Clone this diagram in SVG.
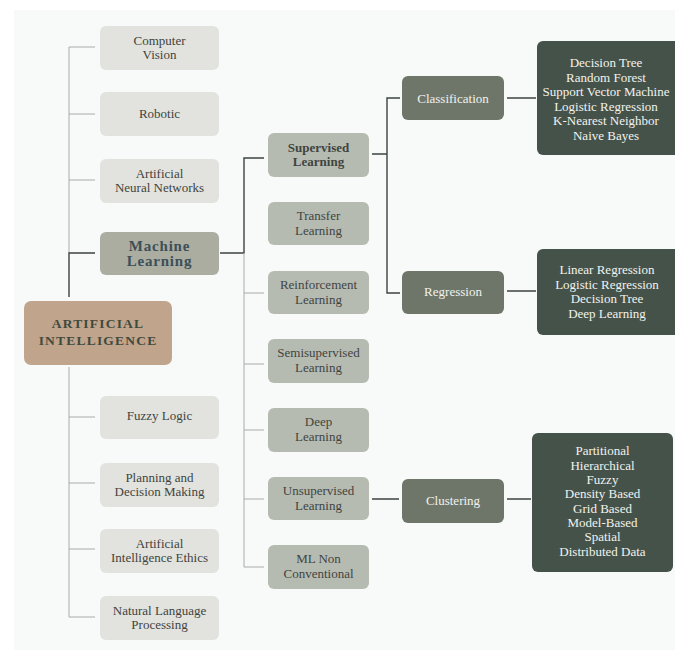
<svg xmlns="http://www.w3.org/2000/svg" width="675" height="650" viewBox="0 0 675 650">
<style>
text{text-anchor:middle}
.l1{fill:#e2e3de}
.l1t{fill:#3f4440;font-size:13px}
.l2{fill:#b6bbb2}
.l2t{fill:#3f4440;font-size:13px}
.l3{fill:#6e7669}
.l3t{fill:#f2f2ee;font-size:13px}
.l4{fill:#45524a}
.l4t{fill:#f2f2ee;font-size:13px}
.lt{stroke:#a9aca8;stroke-width:1;fill:none}
.dk{stroke:#3c443e;stroke-width:1.4;fill:none}
</style>
<rect x="0" y="0" width="675" height="650" fill="#ffffff"/>
<rect x="14" y="10" width="661" height="640" fill="#f8f9f9"/>
<g id="connectors">
<path class="lt" d="M69 47V253M69 47H95M69 114H95M69 180H95"/>
<path class="dk" d="M95 253H69V297"/>
<path class="lt" d="M69 367V617M69 417H95M69 483H95M69 549H95M69 617H95"/>
<path class="dk" d="M220 253H244V158H264"/>
<path class="lt" d="M244 253V567M244 293H264M244 364H264M244 430H264M244 499H264M244 567H264"/>
<path class="dk" d="M372 154H387M400 98H387V293H400"/>
<path class="dk" d="M507 98H536M507 291H536M507 499H531M372 499H399"/>
</g>
<g font-family="Liberation Serif, Times New Roman, DejaVu Serif, serif">
<g id="computer-vision"><rect class="l1" x="100" y="26" width="119" height="44" rx="6"/><text class="l1t" x="159.5" y="45">Computer</text><text class="l1t" x="159.5" y="59">Vision</text></g>
<g id="robotic"><rect class="l1" x="100" y="92" width="119" height="44" rx="6"/><text class="l1t" x="159.5" y="118">Robotic</text></g>
<g id="ann"><rect class="l1" x="100" y="159" width="119" height="44" rx="6"/><text class="l1t" x="159.5" y="178">Artificial</text><text class="l1t" x="159.5" y="192">Neural Networks</text></g>
<g id="machine-learning"><rect fill="#abada1" x="100" y="232" width="119" height="43" rx="6"/><text x="159.5" y="251" font-size="15" font-weight="bold" fill="#3d4f58" letter-spacing="0.8">Machine</text><text x="159.5" y="266" font-size="15" font-weight="bold" fill="#3d4f58" letter-spacing="0.8">Learning</text></g>
<g id="ai"><rect fill="#c1a48c" x="24" y="301" width="148" height="64" rx="7"/><text x="98" y="328" font-size="13.5" font-weight="bold" fill="#3e4a3e" letter-spacing="1.2">ARTIFICIAL</text><text x="98" y="345" font-size="13.5" font-weight="bold" fill="#3e4a3e" letter-spacing="1.2">INTELLIGENCE</text></g>
<g id="fuzzy-logic"><rect class="l1" x="100" y="396" width="119" height="43" rx="6"/><text class="l1t" x="159.5" y="420">Fuzzy Logic</text></g>
<g id="planning"><rect class="l1" x="100" y="463" width="119" height="44" rx="6"/><text class="l1t" x="159.5" y="482">Planning and</text><text class="l1t" x="159.5" y="496">Decision Making</text></g>
<g id="ethics"><rect class="l1" x="100" y="529" width="119" height="44" rx="6"/><text class="l1t" x="159.5" y="548">Artificial</text><text class="l1t" x="159.5" y="562">Intelligence Ethics</text></g>
<g id="nlp"><rect class="l1" x="100" y="596" width="119" height="44" rx="6"/><text class="l1t" x="159.5" y="615">Natural Language</text><text class="l1t" x="159.5" y="629">Processing</text></g>
<g id="supervised"><rect class="l2" x="268" y="133" width="101" height="44" rx="6"/><text x="318.5" y="152" font-size="13" font-weight="bold" fill="#3f4440">Supervised</text><text x="318.5" y="166" font-size="13" font-weight="bold" fill="#3f4440">Learning</text></g>
<g id="transfer"><rect class="l2" x="268" y="202" width="101" height="43" rx="6"/><text class="l2t" x="318.5" y="220">Transfer</text><text class="l2t" x="318.5" y="235">Learning</text></g>
<g id="reinforcement"><rect class="l2" x="268" y="271" width="101" height="43" rx="6"/><text class="l2t" x="318.5" y="289">Reinforcement</text><text class="l2t" x="318.5" y="304">Learning</text></g>
<g id="semisupervised"><rect class="l2" x="268" y="339" width="101" height="44" rx="6"/><text class="l2t" x="318.5" y="357">Semisupervised</text><text class="l2t" x="318.5" y="372">Learning</text></g>
<g id="deep"><rect class="l2" x="268" y="408" width="101" height="44" rx="6"/><text class="l2t" x="318.5" y="426">Deep</text><text class="l2t" x="318.5" y="441">Learning</text></g>
<g id="unsupervised"><rect class="l2" x="268" y="477" width="101" height="43" rx="6"/><text class="l2t" x="318.5" y="495">Unsupervised</text><text class="l2t" x="318.5" y="510">Learning</text></g>
<g id="ml-non"><rect class="l2" x="268" y="545" width="101" height="44" rx="6"/><text class="l2t" x="318.5" y="563">ML Non</text><text class="l2t" x="318.5" y="578">Conventional</text></g>
<g id="classification"><rect class="l3" x="402" y="76" width="102" height="44" rx="6"/><text class="l3t" x="453" y="103">Classification</text></g>
<g id="regression"><rect class="l3" x="402" y="271" width="102" height="43" rx="6"/><text class="l3t" x="453" y="296">Regression</text></g>
<g id="clustering"><rect class="l3" x="402" y="479" width="102" height="44" rx="6"/><text class="l3t" x="453" y="505">Clustering</text></g>
<g id="class-list"><rect class="l4" x="537" y="41" width="146" height="114" rx="6"/><text class="l4t" x="606" y="67">Decision Tree</text><text class="l4t" x="606" y="82">Random Forest</text><text class="l4t" x="606" y="96">Support Vector Machine</text><text class="l4t" x="606" y="111">Logistic Regression</text><text class="l4t" x="606" y="125">K-Nearest Neighbor</text><text class="l4t" x="606" y="140">Naive Bayes</text></g>
<g id="reg-list"><rect class="l4" x="537" y="249" width="146" height="86" rx="6"/><text class="l4t" x="607" y="274">Linear Regression</text><text class="l4t" x="607" y="289">Logistic Regression</text><text class="l4t" x="607" y="303">Decision Tree</text><text class="l4t" x="607" y="318">Deep Learning</text></g>
<g id="clust-list"><rect class="l4" x="532" y="433" width="141" height="139" rx="6"/><text class="l4t" x="602.5" y="455">Partitional</text><text class="l4t" x="602.5" y="470">Hierarchical</text><text class="l4t" x="602.5" y="484">Fuzzy</text><text class="l4t" x="602.5" y="498">Density Based</text><text class="l4t" x="602.5" y="513">Grid Based</text><text class="l4t" x="602.5" y="527">Model-Based</text><text class="l4t" x="602.5" y="541">Spatial</text><text class="l4t" x="602.5" y="556">Distributed Data</text></g>
</g>
</svg>
